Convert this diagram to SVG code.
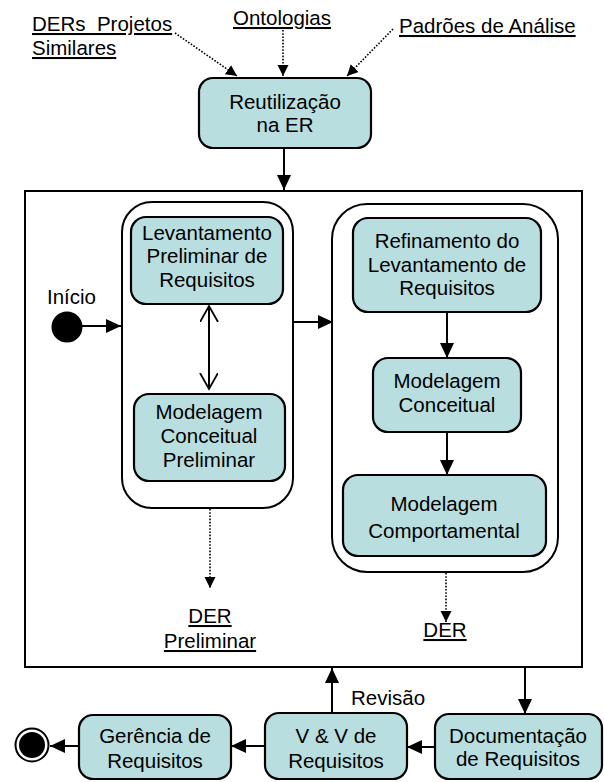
<svg xmlns="http://www.w3.org/2000/svg" width="604" height="782" viewBox="0 0 604 782">
<style>
text{font-family:"Liberation Sans",Arial,sans-serif;font-size:20.5px;fill:#000}
.c{text-anchor:middle}
.u{text-decoration:underline;white-space:pre}
.box{fill:#B9DEDF;stroke:#000;stroke-width:2.2}
.cont{fill:#fff;stroke:#000;stroke-width:2}
.ln{fill:none;stroke:#000;stroke-width:2}
.dot{fill:none;stroke:#000;stroke-width:1.6;stroke-dasharray:1.6,1.6}
</style>
<defs>
<marker id="arr" markerUnits="userSpaceOnUse" markerWidth="16" markerHeight="14" refX="15" refY="7" orient="auto"><path d="M0,0 L15,7 L0,14 z" fill="#000"/></marker>
<marker id="arrs" markerUnits="userSpaceOnUse" markerWidth="12" markerHeight="12" refX="11" refY="5.5" orient="auto"><path d="M0,0 L11,5.5 L0,11 z" fill="#000"/></marker>
<marker id="open" markerUnits="userSpaceOnUse" markerWidth="18" markerHeight="20" refX="16" refY="9" orient="auto"><path d="M0,0 L16,9 L0,18" fill="none" stroke="#000" stroke-width="1.8"/></marker>
<marker id="openS" markerUnits="userSpaceOnUse" markerWidth="18" markerHeight="20" refX="16" refY="9" orient="auto-start-reverse"><path d="M0,0 L16,9 L0,18" fill="none" stroke="#000" stroke-width="1.8"/></marker>
</defs>
<rect x="25" y="191" width="557" height="476" fill="#fff" stroke="#000" stroke-width="2"/>
<g id="inputs">
<text x="32" y="31" class="u">DERs  Projetos</text>
<text x="32" y="55" class="u">Similares</text>
<text x="233" y="25" class="u">Ontologias</text>
<text x="399" y="33" class="u">Padrões de Análise</text>
</g>
<g id="reutilizacao"><rect class="box" x="199" y="78" width="172" height="70" rx="14"/><text class="c" x="285" y="109">Reutilização</text><text class="c" x="285" y="132">na ER</text></g>
<g id="preliminar-container"><rect class="cont" x="122" y="202" width="171" height="306" rx="30"/></g>
<g id="levantamento"><rect class="box" x="131" y="217" width="152" height="87" rx="15"/><text class="c" x="207" y="240">Levantamento</text><text class="c" x="207" y="263">Preliminar de</text><text class="c" x="207" y="287">Requisitos</text></g>
<g id="modelagem-preliminar"><rect class="box" x="134" y="394" width="151" height="87" rx="15"/><text class="c" x="209" y="419">Modelagem</text><text class="c" x="209" y="443">Conceitual</text><text class="c" x="209" y="467">Preliminar</text></g>
<g id="refinamento-container"><rect class="cont" x="332" y="204" width="226" height="368" rx="35"/></g>
<g id="refinamento"><rect class="box" x="353" y="218" width="188" height="94" rx="15"/><text class="c" x="447" y="248">Refinamento do</text><text class="c" x="447" y="272">Levantamento de</text><text class="c" x="447" y="295">Requisitos</text></g>
<g id="modelagem-conceitual"><rect class="box" x="373" y="358" width="148" height="74" rx="15"/><text class="c" x="447" y="388">Modelagem</text><text class="c" x="447" y="412">Conceitual</text></g>
<g id="modelagem-comportamental"><rect class="box" x="343" y="475" width="203" height="81" rx="15"/><text class="c" x="444" y="511">Modelagem</text><text class="c" x="444" y="538">Comportamental</text></g>
<g id="inicio"><text x="47" y="304">Início</text><circle cx="67" cy="327" r="15.5" fill="#000"/></g>
<g id="der-preliminar"><text class="c u" x="210" y="623">DER</text><text class="c u" x="210" y="648">Preliminar</text></g>
<g id="der"><text class="c u" x="445" y="637">DER</text></g>
<g id="gerencia"><rect class="box" x="79" y="715" width="152" height="64" rx="14"/><text class="c" x="155" y="743">Gerência de</text><text class="c" x="155" y="768">Requisitos</text></g>
<g id="vv"><rect class="box" x="265" y="713" width="142" height="66" rx="14"/><text class="c" x="336" y="743">V &amp; V de</text><text class="c" x="336" y="768">Requisitos</text></g>
<g id="documentacao"><rect class="box" x="435" y="714" width="167" height="65" rx="14"/><text class="c" x="518" y="743">Documentação</text><text class="c" x="518" y="766">de Requisitos</text></g>
<g id="fim"><circle cx="32" cy="745" r="16.5" fill="#fff" stroke="#000" stroke-width="2"/><circle cx="32" cy="745" r="13" fill="#000"/></g>
<g id="revisao-label"><text x="351" y="705">Revisão</text></g>
<g id="connectors">
<line class="dot" x1="175" y1="33" x2="237" y2="76" marker-end="url(#arrs)"/>
<line class="dot" x1="283" y1="30" x2="283" y2="76" marker-end="url(#arrs)"/>
<line class="dot" x1="393" y1="29" x2="347" y2="76" marker-end="url(#arrs)"/>
<line class="ln" x1="284" y1="148" x2="284" y2="190" marker-end="url(#arr)"/>
<line class="ln" x1="82" y1="326" x2="121" y2="326" marker-end="url(#arr)"/>
<line class="ln" x1="209" y1="306" x2="209" y2="389" stroke-width="1.6" marker-start="url(#openS)" marker-end="url(#open)"/>
<line class="ln" x1="293" y1="322" x2="333" y2="322" marker-end="url(#arr)"/>
<line class="ln" x1="447" y1="312" x2="447" y2="358" marker-end="url(#arr)"/>
<line class="ln" x1="447" y1="432" x2="447" y2="475" marker-end="url(#arr)"/>
<line class="dot" x1="210" y1="509" x2="210" y2="588" marker-end="url(#arrs)"/>
<line class="dot" x1="446" y1="573" x2="446" y2="622" marker-end="url(#arrs)"/>
<line class="ln" x1="525" y1="667" x2="525" y2="714" marker-end="url(#arr)"/>
<line class="ln" x1="332" y1="713" x2="332" y2="668" marker-end="url(#arr)"/>
<line class="ln" x1="435" y1="747" x2="407" y2="747" marker-end="url(#arr)"/>
<line class="ln" x1="265" y1="746" x2="231" y2="746" marker-end="url(#arr)"/>
<line class="ln" x1="79" y1="746" x2="50" y2="746" marker-end="url(#arr)"/>
</g>
</svg>
